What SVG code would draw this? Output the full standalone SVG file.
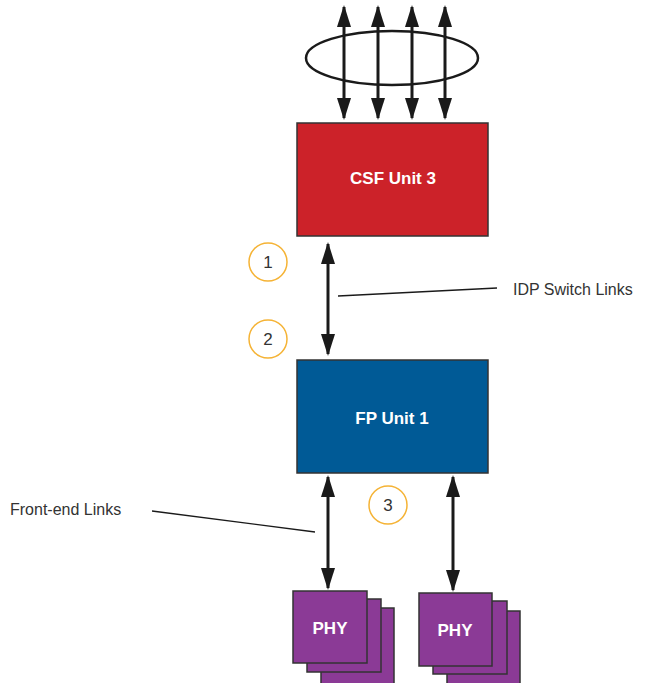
<svg xmlns="http://www.w3.org/2000/svg" width="646" height="683" viewBox="0 0 646 683">
<style>
.lbl{font-family:"Liberation Sans",Arial,sans-serif;font-size:16px;fill:#333}
.num{font-family:"Liberation Sans",Arial,sans-serif;font-size:17px;fill:#333;text-anchor:middle}
.wt{font-family:"Liberation Sans",Arial,sans-serif;font-size:17px;font-weight:bold;fill:#fff;text-anchor:middle}
.box{stroke:#333;stroke-width:1.5}
.arr{stroke:#1a1a1a;stroke-width:3;fill:none;marker-start:url(#ah);marker-end:url(#ah)}
.lead{stroke:#1a1a1a;stroke-width:1.3;fill:none}
.circ{fill:#fff;stroke:#f5b335;stroke-width:1.5}
</style>
<defs>
<marker id="ah" viewBox="0 0 22 14" refX="20" refY="7" markerWidth="22" markerHeight="14" orient="auto-start-reverse" markerUnits="userSpaceOnUse">
<path d="M0,0 L22,7 L0,14 Z" fill="#1a1a1a"/>
</marker>
</defs>
<g id="ring">
<ellipse cx="392" cy="58" rx="86" ry="27" fill="none" stroke="#1a1a1a" stroke-width="2.5"/>
</g>
<g id="csf">
<rect class="box" x="297" y="123" width="191" height="113" fill="#cc2229"/>
<text class="wt" x="393" y="184">CSF Unit 3</text>
</g>
<g id="fp">
<rect class="box" x="297" y="360" width="191" height="113" fill="#005a96"/>
<text class="wt" x="392" y="424">FP Unit 1</text>
</g>
<g id="phy1">
<rect class="box" x="321" y="608" width="73" height="76" fill="#8b3a96"/>
<rect class="box" x="307" y="599" width="74" height="73" fill="#8b3a96"/>
<rect class="box" x="293" y="591" width="74" height="72" fill="#8b3a96"/>
<text class="wt" x="330" y="634">PHY</text>
</g>
<g id="phy2">
<rect class="box" x="447" y="611" width="73" height="73" fill="#8b3a96"/>
<rect class="box" x="433" y="601" width="74" height="73" fill="#8b3a96"/>
<rect class="box" x="419" y="593" width="73" height="73" fill="#8b3a96"/>
<text class="wt" x="455" y="636">PHY</text>
</g>
<g id="c1"><circle class="circ" cx="268" cy="262" r="19"/><text class="num" x="268" y="268">1</text></g>
<g id="c2"><circle class="circ" cx="268" cy="339" r="19"/><text class="num" x="268" y="345">2</text></g>
<g id="c3"><circle class="circ" cx="388" cy="505" r="19"/><text class="num" x="388" y="511">3</text></g>
<g id="connectors">
<line class="arr" x1="344" y1="7" x2="344" y2="118"/>
<line class="arr" x1="378" y1="7" x2="378" y2="118"/>
<line class="arr" x1="412" y1="7" x2="412" y2="118"/>
<line class="arr" x1="445" y1="7" x2="445" y2="118"/>
<line class="arr" x1="328" y1="244" x2="328" y2="354"/>
<line class="arr" x1="328" y1="477" x2="328" y2="588"/>
<line class="arr" x1="453" y1="477" x2="453" y2="590"/>
<line class="lead" x1="338" y1="296" x2="497" y2="288"/>
<line class="lead" x1="152" y1="511" x2="315" y2="532"/>
</g>
<text class="lbl" x="513" y="295">IDP Switch Links</text>
<text class="lbl" x="10" y="515">Front-end Links</text>
</svg>
